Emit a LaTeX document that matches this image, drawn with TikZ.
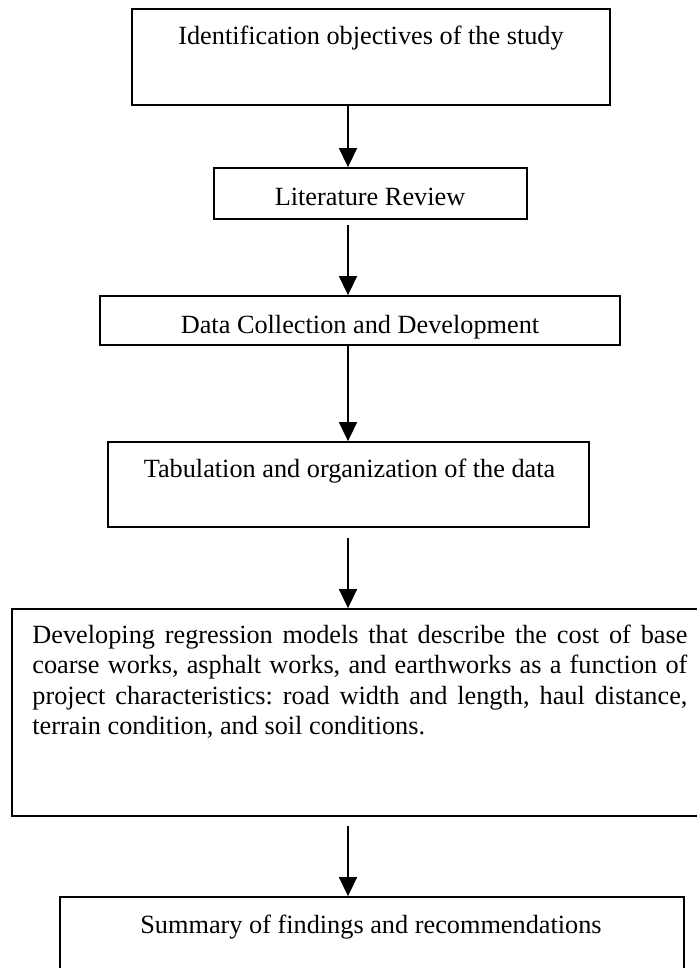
\documentclass[tikz,border=0pt]{standalone}
\usepackage{fontspec}
\setmainfont{Liberation Serif}
\usetikzlibrary{arrows.meta}
\begin{document}
\frenchspacing
\def\u{0.4566pt}
\begin{tikzpicture}[x=0.4566pt,y=-0.4566pt,
  box/.style={draw, line width=0.8pt, rectangle, inner sep=0pt},
  txt/.style={font=\fontsize{12pt}{14pt}\selectfont\frenchspacing, inner sep=0pt, anchor=base},
  arr/.style={line width=0.8pt, -{Triangle[length=8.7pt,width=8.2pt]}}]
\useasboundingbox (0,0) rectangle (697,968);
\clip (0,0) rectangle (697,968);
% boxes
\node[box, minimum width=478*\u, minimum height=96*\u]  (b1) at (371,57) {};
\node[box, minimum width=313*\u, minimum height=51*\u]  (b2) at (370.5,193.5) {};
\node[box, minimum width=520*\u, minimum height=49*\u]  (b3) at (360,320.5) {};
\node[box, minimum width=481*\u, minimum height=85*\u]  (b4) at (348.5,484.5) {};
\node[box, minimum width=698*\u, minimum height=207*\u] (b5) at (361,712.5) {};
\node[box, minimum width=624*\u, minimum height=93*\u]  (b6) at (372,943.5) {};
% texts
\node[txt] (t1) at (371,45) {Identification objectives of the study};
\node[txt] (t2) at (370,205) {Literature Review};
\node[txt] (t3) at (360,333) {Data Collection and Development};
\node[txt] (t4) at (349.5,477) {Tabulation and organization of the data};
\node[txt, anchor=base west, text width=655*\u, align=justify] (t5) at (32,643)
  {Developing regression models that describe the cost of base\linebreak
   coarse works, asphalt works, and earthworks as a function of\linebreak
   project characteristics: road width and length, haul distance,\linebreak
   terrain condition, and soil conditions.};
\node[txt] (t6) at (371,933) {Summary of findings and recommendations};
% arrows
\coordinate (ax) at (348,0);
\draw[arr] (b1.south -| ax) -- (b2.north -| ax);
\draw[arr] ([yshift=-5*\u]b2.south -| ax) -- (b3.north -| ax);
\draw[arr] (b3.south -| ax) -- (b4.north -| ax);
\draw[arr] ([yshift=-10*\u]b4.south -| ax) -- (b5.north -| ax);
\draw[arr] ([yshift=-9*\u]b5.south -| ax) -- (b6.north -| ax);
\end{tikzpicture}
\end{document}
